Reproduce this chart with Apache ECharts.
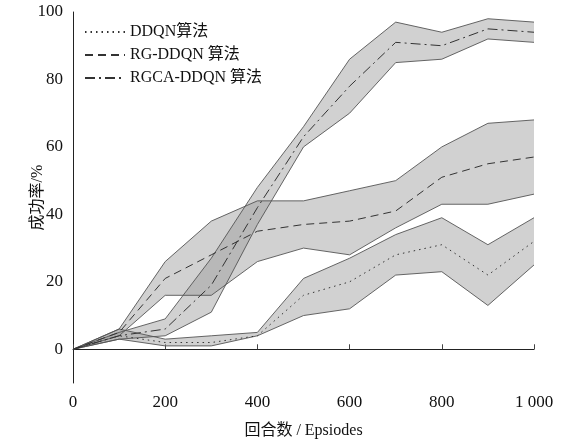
<!DOCTYPE html>
<html>
<head>
<meta charset="utf-8">
<script src="https://cdn.jsdelivr.net/npm/echarts@6/dist/echarts.min.js"></script>
<style>
html,body{margin:0;padding:0;background:#fff;}
#chart{width:566px;height:442px;}
</style>
</head>
<body>
<div id="chart"></div>
<script>
var episodes = ['0', '100', '200', '300', '400', '500', '600', '700', '800', '900', '1000'];
var xTickLabels = {'0': '0', '200': '200', '400': '400', '600': '600', '800': '800', '1000': '1 000'};
var yTicks = ['0', '20', '40', '60', '80', '100'];

var ddqnUpper = [0, 6, 3, 4, 5, 21, 27, 34, 39, 31, 39];
var ddqnLower = [0, 3, 1, 1, 4, 10, 12, 22, 23, 13, 25];
var ddqnMean  = [0, 4, 2, 2, 4, 16, 20, 28, 31, 22, 32];

var rgUpper = [0, 6, 26, 38, 44, 44, 47, 50, 60, 67, 68];
var rgLower = [0, 4, 16, 16, 26, 30, 28, 36, 43, 43, 46];
var rgMean  = [0, 5, 21, 28, 35, 37, 38, 41, 51, 55, 57];

var rgcaUpper = [0, 5, 9, 27, 48, 66, 86, 97, 94, 98, 97];
var rgcaLower = [0, 3, 4, 11, 37, 60, 70, 85, 86, 92, 91];
var rgcaMean  = [0, 4, 6, 19, 42, 63, 78, 91, 90, 95, 94];

var names = ['DDQN算法', 'RG-DDQN 算法', 'RGCA-DDQN 算法'];

var FONT = "'Liberation Serif', 'Noto Sans CJK SC', serif";
var edgeStyle = {color: '#555', width: 0.9};

function diff(up, lo) { return up.map(function (v, i) { return v - lo[i]; }); }

function band(key, up, lo) {
  return [
    {type: 'line', stack: key, data: lo.slice(), symbol: 'none', silent: true,
     lineStyle: edgeStyle, z: 2},
    {type: 'line', stack: key, data: diff(up, lo), symbol: 'none', silent: true,
     lineStyle: edgeStyle, areaStyle: {color: '#9a9a9a', opacity: 0.45}, z: 2}
  ];
}
function meanLine(name, data, type) {
  return {type: 'line', name: name, data: data.slice(), symbol: 'none', silent: true,
          itemStyle: {color: '#333'},
          lineStyle: {color: '#333', width: 1, type: type}, z: 5};
}

var series = [].concat(
  band('ddqn', ddqnUpper, ddqnLower),
  band('rg', rgUpper, rgLower),
  band('rgca', rgcaUpper, rgcaLower),
  [meanLine(names[0], ddqnMean, [1.5, 4]),
   meanLine(names[1], rgMean, [8, 5]),
   meanLine(names[2], rgcaMean, [10, 4, 2, 4])]
);

var chart = echarts.init(document.getElementById('chart'), null, {renderer: 'canvas'});
chart.setOption({
  animation: false,
  backgroundColor: '#fff',
  textStyle: {fontFamily: FONT},
  grid: {left: 73, right: 32, top: 12, bottom: 59, outerBoundsMode: 'none', containLabel: false},
  legend: {
    data: names, orient: 'vertical', left: 79, top: 19,
    itemWidth: 40, itemHeight: 10, itemGap: 7,
    itemStyle: {opacity: 0},
    textStyle: {fontFamily: FONT, fontSize: 16, color: '#111'}
  },
  xAxis: {
    type: 'category', data: episodes, boundaryGap: false,
    name: '回合数 / Epsiodes', nameLocation: 'middle', nameGap: 40,
    nameTextStyle: {fontFamily: FONT, fontSize: 16, color: '#111'},
    axisLine: {lineStyle: {color: '#222', width: 1}},
    axisTick: {inside: true, length: 5, interval: 1, lineStyle: {color: '#444'}},
    splitLine: {show: false},
    axisLabel: {fontFamily: FONT, fontSize: 17, color: '#111', margin: 11, interval: 1,
      formatter: function (v) { return xTickLabels[v] || ''; }}
  },
  yAxis: {
    type: 'value', min: -10, max: 100,
    name: '成功率/%', nameLocation: 'middle', nameGap: 27, nameRotate: 90,
    nameMoveOverlap: false,
    nameTextStyle: {fontFamily: FONT, fontSize: 16, color: '#111'},
    axisLine: {show: true, lineStyle: {color: '#222', width: 1}},
    axisTick: {inside: true, length: 5, lineStyle: {color: '#444'}},
    splitLine: {show: false},
    axisLabel: {fontFamily: FONT, fontSize: 17, color: '#111', margin: 10,
      formatter: function (v) { return v < 0 ? '' : yTicks[Math.round(v / 20)]; }}
  },
  series: series
});
</script>
</body>
</html>
